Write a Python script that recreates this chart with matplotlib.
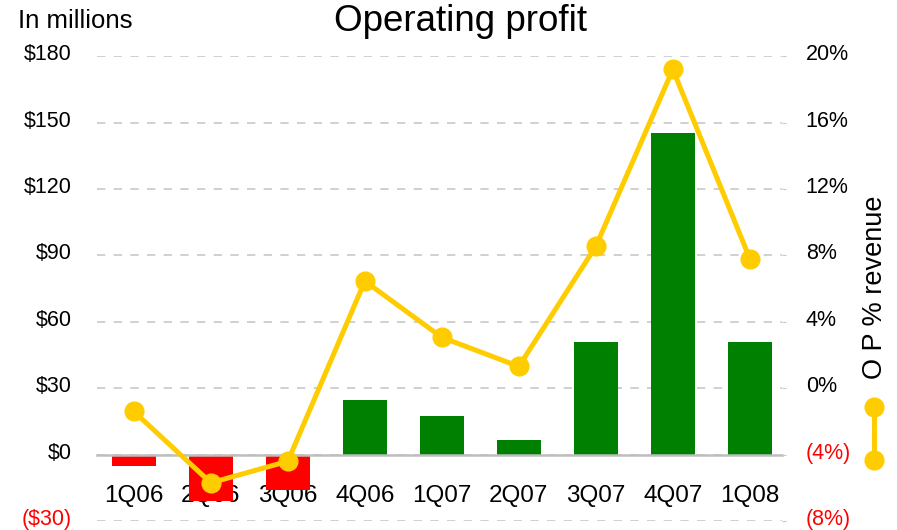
import numpy as np
import matplotlib
matplotlib.use("Agg")
import matplotlib.pyplot as plt
from matplotlib.lines import Line2D
from matplotlib.transforms import ScaledTranslation

plt.rcParams['font.family'] = ['Liberation Sans', 'DejaVu Sans']

quarters = ['1Q06', '2Q06', '3Q06', '4Q06', '1Q07', '2Q07', '3Q07', '4Q07', '1Q08']
op_profit = [-5.3, -20.8, -15.8, 24.6, 17.3, 6.5, 51, 145.4, 51]   # $ millions
op_pct = [-1.4, -5.7, -4.4, 6.45, 3.06, 1.31, 8.55, 19.2, 7.8]      # % of revenue

left_ticks = [-30, 0, 30, 60, 90, 120, 150, 180]
left_labels = ['($30)', '$0', '$30', '$60', '$90', '$120', '$150', '$180']
right_ticks = [-8, -4, 0, 4, 8, 12, 16, 20]
right_labels = ['(8%)', '(4%)', '0%', '4%', '8%', '12%', '16%', '20%']

GREEN = '#008000'
RED = '#FF0000'
GOLD = '#FFCC00'
GRID = '#C8C8C8'

fig = plt.figure(figsize=(8.97, 5.30), dpi=100)
ax = fig.add_axes([0.108, 0.017, 0.764, 0.877])
x = np.arange(len(quarters))

colors = [GREEN if v >= 0 else RED for v in op_profit]
ax.bar(x, op_profit, width=0.57, color=colors, zorder=2)

ax.set_ylim(-30, 180)
ax.set_xlim(-0.48, 8.42)
ax.set_yticks(left_ticks)
ax.set_yticklabels(left_labels, fontsize=15.5)
ax.tick_params(axis='y', length=0, pad=18)
ax.yaxis.grid(True, color=GRID, linestyle=(0, (5, 5)), linewidth=1.2)
ax.set_axisbelow(True)

for s in ['top', 'right', 'left']:
    ax.spines[s].set_visible(False)
ax.spines['bottom'].set_position(('data', 0))
ax.spines['bottom'].set_color('#BEBEBE')
ax.spines['bottom'].set_linewidth(1.8)
ax.spines['bottom'].set_zorder(3)
ax.set_xticks(x)
ax.set_xticklabels(quarters, fontsize=17.5)
ax.tick_params(axis='x', length=0, pad=22)

ax2 = ax.twinx()
ax2.plot(x, op_pct, color=GOLD, linewidth=3.6, marker='o', markersize=13.5, zorder=4)
ax2.set_ylim(-8, 20)
ax2.set_yticks(right_ticks)
ax2.set_yticklabels(right_labels, fontsize=15.5)
ax2.tick_params(axis='y', length=3, color=GRID, pad=14)
for s in ['top', 'right', 'left', 'bottom']:
    ax2.spines[s].set_visible(False)

# labels sit a few pixels above their gridlines; negatives in red
up = ScaledTranslation(0, 4 / 100, fig.dpi_scale_trans)
for a, ticks in [(ax, left_ticks), (ax2, right_ticks)]:
    for lbl, v in zip(a.get_yticklabels(), ticks):
        lbl.set_color(RED if v < 0 else 'black')
        lbl.set_transform(lbl.get_transform() + up)

fig.text(0.513, 0.96, 'Operating profit', ha='center', va='center', fontsize=26.5)
fig.text(0.02, 0.96, 'In millions', ha='left', va='center', fontsize=18.5)
fig.text(0.975, 0.458, 'O P % revenue', ha='center', va='center', rotation=90, fontsize=19.5)

# legend glyph
fig.add_artist(Line2D([0.974, 0.974], [1 - 407 / 530, 1 - 460 / 530], color=GOLD,
                      linewidth=3.6, marker='o', markersize=13.5, transform=fig.transFigure))

fig.savefig('out.png', dpi=100)
